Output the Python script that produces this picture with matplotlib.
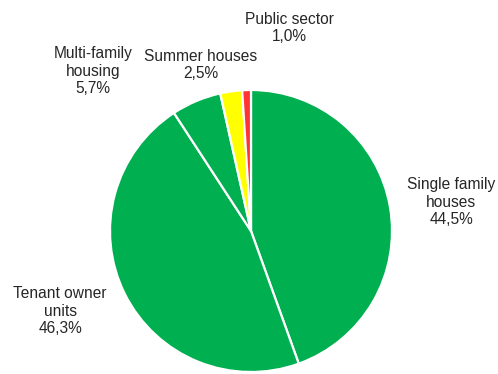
import matplotlib
matplotlib.use("Agg")
import matplotlib.pyplot as plt

# Housing segments, clockwise from 12 o'clock
categories = ["Single family\nhouses", "Tenant owner\nunits", "Multi-family\nhousing",
              "Summer houses", "Public sector"]
shares = [44.5, 46.3, 5.7, 2.5, 1.0]
colors = ["#00B050", "#00B050", "#00B050", "#FFFF00", "#FF3333"]

# Label anchor points in the figure's pixel frame (x, y from top)
label_pos = [(451, 202), (60, 311), (93, 71), (201, 65), (289, 28)]

W, H = 498, 374
fig = plt.figure(figsize=(W / 100, H / 100), dpi=100)
ax = fig.add_axes([0, 0, 1, 1])

cx, cy, r = 251, H - 231, 141
ax.pie(shares, colors=colors, startangle=90, counterclock=False,
       center=(cx, cy), radius=r,
       wedgeprops=dict(edgecolor="white", linewidth=1.6))
ax.set_xlim(0, W)
ax.set_ylim(0, H)
ax.set_aspect("equal")
ax.axis("off")

for name, val, (lx, ly) in zip(categories, shares, label_pos):
    txt = f"{name}\n{val:.1f}%".replace(".", ",")
    ax.text(lx, H - ly, txt, ha="center", va="center", fontsize=11.2,
            family="Liberation Sans", color="#262626", linespacing=1.18)

fig.savefig("out.png", dpi=100)
